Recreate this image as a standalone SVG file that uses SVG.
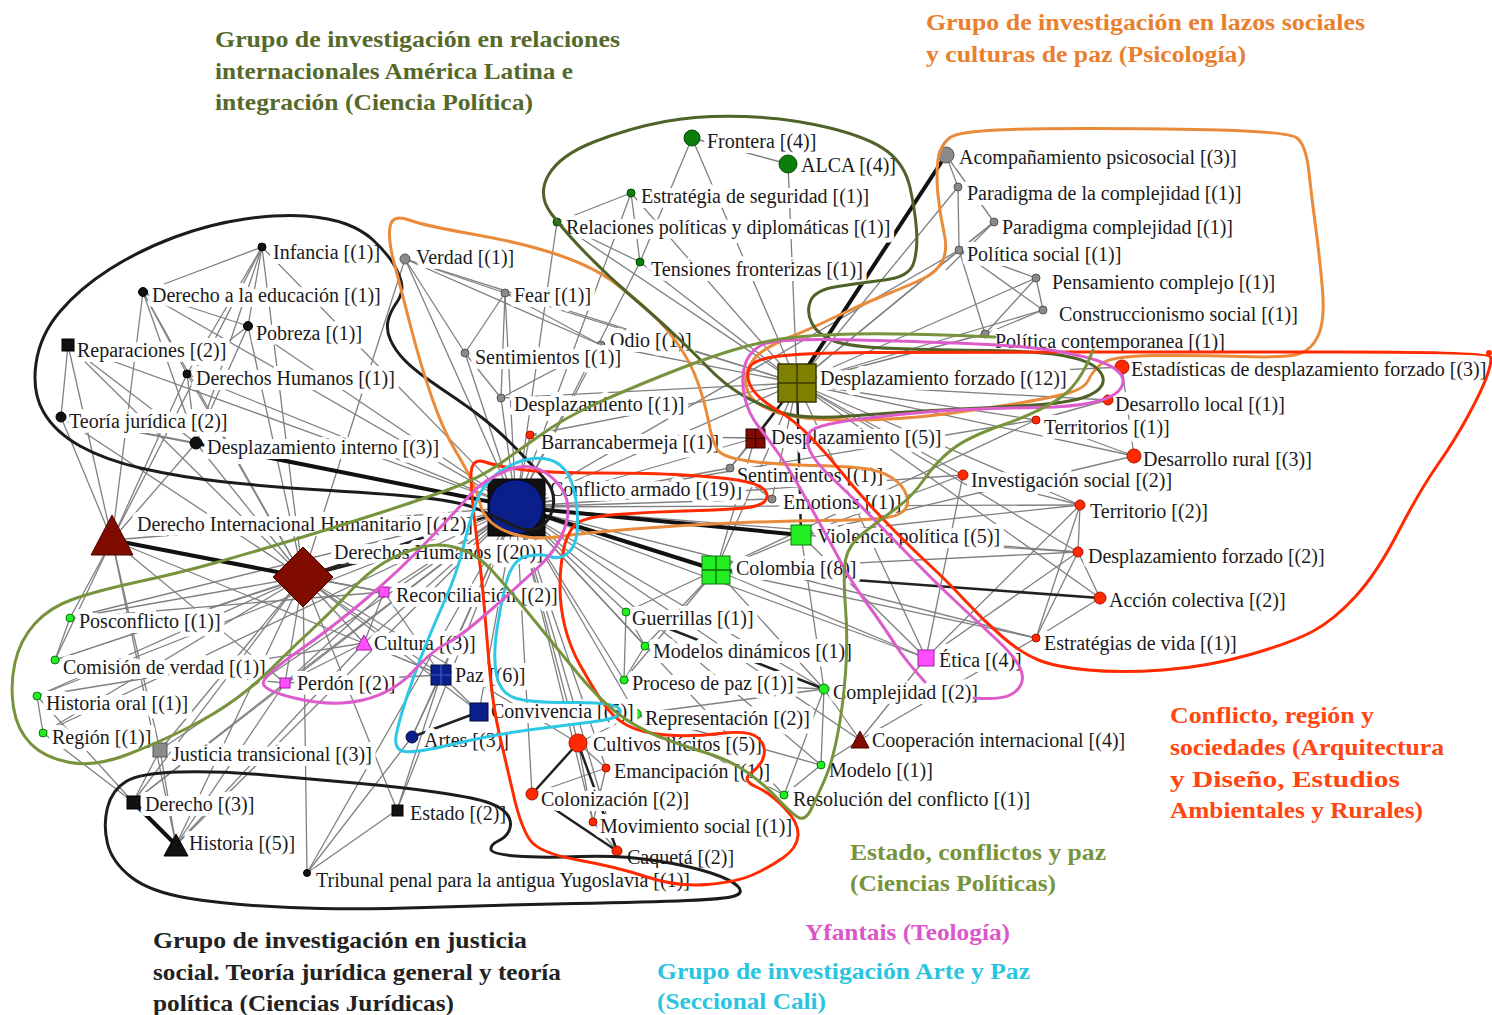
<svg xmlns="http://www.w3.org/2000/svg" width="1492" height="1015" viewBox="0 0 1492 1015">
<style>
.lbl{font-family:"Liberation Serif","Times New Roman",serif;font-size:20px;fill:#1a1a1a;stroke:#fff;stroke-width:10px;stroke-linejoin:round;paint-order:stroke fill}
.cap{font-family:"Liberation Serif","Times New Roman",serif;font-size:23px;font-weight:bold}
#edges line{stroke:#808080;stroke-width:1.3}
#edges line.t{stroke:#111;stroke-width:4}
#edges line.m{stroke:#222;stroke-width:2.5}
.ol{fill:none;stroke-width:3;stroke-linecap:round;stroke-linejoin:round}
.g1{fill:#0a7d0a;stroke:#064a06;stroke-width:1}
.gy{fill:#8a8a8a;stroke:#555;stroke-width:1}
.rd{fill:#ff2a00;stroke:#b01000;stroke-width:1}
.lm{fill:#22ee22;stroke:#0a7a0a;stroke-width:1}
.mg{fill:#ff4dff;stroke:#a020a0;stroke-width:1}
.nv{fill:#0b1f8a;stroke:#000a40;stroke-width:1}
.dr{fill:#800c00;stroke:#4a0500;stroke-width:1}
.bk{fill:#111;stroke:#000;stroke-width:1}
</style>
<rect width="1492" height="1015" fill="#fff"/>
<g id="edges">
<line x1="516" y1="507" x2="262" y2="247"/><line x1="516" y1="507" x2="143" y2="292"/><line x1="516" y1="507" x2="248" y2="326"/><line x1="516" y1="507" x2="68" y2="345"/><line x1="516" y1="507" x2="187" y2="374"/><line x1="516" y1="507" x2="61" y2="417"/><line x1="516" y1="507" x2="405" y2="259"/><line x1="516" y1="507" x2="505" y2="293"/><line x1="516" y1="507" x2="601" y2="345"/><line x1="516" y1="507" x2="465" y2="353"/><line x1="516" y1="507" x2="501" y2="398"/><line x1="516" y1="507" x2="530" y2="435"/><line x1="516" y1="507" x2="557" y2="222"/><line x1="516" y1="507" x2="640" y2="262"/><line x1="516" y1="507" x2="631" y2="193"/><line x1="516" y1="507" x2="730" y2="468"/><line x1="516" y1="507" x2="772" y2="499"/><line x1="516" y1="507" x2="626" y2="612"/><line x1="516" y1="507" x2="645" y2="646"/><line x1="516" y1="507" x2="624" y2="680"/><line x1="516" y1="507" x2="824" y2="689"/><line x1="516" y1="507" x2="636" y2="714"/><line x1="516" y1="507" x2="384" y2="592"/><line x1="516" y1="507" x2="364" y2="643"/><line x1="516" y1="507" x2="285" y2="683"/><line x1="516" y1="507" x2="441" y2="675"/><line x1="516" y1="507" x2="479" y2="712"/><line x1="516" y1="507" x2="412" y2="737"/><line x1="516" y1="507" x2="578" y2="743"/><line x1="516" y1="507" x2="606" y2="768"/><line x1="516" y1="507" x2="532" y2="794"/><line x1="516" y1="507" x2="593" y2="822"/><line x1="516" y1="507" x2="617" y2="851"/><line x1="516" y1="507" x2="70" y2="618"/><line x1="516" y1="507" x2="55" y2="660"/><line x1="516" y1="507" x2="37" y2="696"/><line x1="516" y1="507" x2="43" y2="733"/><line x1="516" y1="507" x2="160" y2="750"/><line x1="516" y1="507" x2="133" y2="802"/><line x1="516" y1="507" x2="176" y2="845"/><line x1="516" y1="507" x2="397" y2="810"/><line x1="516" y1="507" x2="307" y2="873"/><line x1="516" y1="507" x2="112" y2="540"/><line x1="516" y1="507" x2="963" y2="475"/><line x1="516" y1="507" x2="1080" y2="505"/><line x1="516" y1="507" x2="1078" y2="552"/><line x1="516" y1="507" x2="1036" y2="638"/><line x1="516" y1="507" x2="926" y2="658"/><line x1="516" y1="507" x2="860" y2="740"/><line x1="516" y1="507" x2="821" y2="765"/><line x1="516" y1="507" x2="784" y2="795"/><line x1="516" y1="507" x2="797" y2="383"/><line x1="516" y1="507" x2="959" y2="250"/><line x1="516" y1="507" x2="1036" y2="420"/><line x1="516" y1="507" x2="755" y2="438"/>
<line x1="303" y1="577" x2="262" y2="247"/><line x1="303" y1="577" x2="143" y2="292"/><line x1="303" y1="577" x2="248" y2="326"/><line x1="303" y1="577" x2="68" y2="345"/><line x1="303" y1="577" x2="187" y2="374"/><line x1="303" y1="577" x2="61" y2="417"/><line x1="303" y1="577" x2="196" y2="443"/><line x1="303" y1="577" x2="70" y2="618"/><line x1="303" y1="577" x2="55" y2="660"/><line x1="303" y1="577" x2="37" y2="696"/><line x1="303" y1="577" x2="43" y2="733"/><line x1="303" y1="577" x2="160" y2="750"/><line x1="303" y1="577" x2="133" y2="802"/><line x1="303" y1="577" x2="176" y2="845"/><line x1="303" y1="577" x2="384" y2="592"/><line x1="303" y1="577" x2="364" y2="643"/><line x1="303" y1="577" x2="285" y2="683"/><line x1="303" y1="577" x2="441" y2="675"/><line x1="303" y1="577" x2="479" y2="712"/><line x1="303" y1="577" x2="397" y2="810"/><line x1="303" y1="577" x2="307" y2="873"/><line x1="303" y1="577" x2="405" y2="259"/><line x1="303" y1="577" x2="578" y2="743"/>
<line x1="112" y1="540" x2="196" y2="443"/><line x1="112" y1="540" x2="61" y2="417"/><line x1="112" y1="540" x2="187" y2="374"/><line x1="112" y1="540" x2="143" y2="292"/><line x1="112" y1="540" x2="68" y2="345"/><line x1="112" y1="540" x2="70" y2="618"/><line x1="112" y1="540" x2="55" y2="660"/><line x1="112" y1="540" x2="160" y2="750"/><line x1="112" y1="540" x2="176" y2="845"/><line x1="112" y1="540" x2="384" y2="592"/><line x1="112" y1="540" x2="285" y2="683"/><line x1="112" y1="540" x2="262" y2="247"/><line x1="112" y1="540" x2="441" y2="675"/>
<line x1="797" y1="383" x2="958" y2="187"/><line x1="797" y1="383" x2="994" y2="222"/><line x1="797" y1="383" x2="959" y2="250"/><line x1="797" y1="383" x2="1036" y2="278"/><line x1="797" y1="383" x2="1043" y2="310"/><line x1="797" y1="383" x2="985" y2="334"/><line x1="797" y1="383" x2="1122" y2="367"/><line x1="797" y1="383" x2="1108" y2="400"/><line x1="797" y1="383" x2="1036" y2="420"/><line x1="797" y1="383" x2="1134" y2="456"/><line x1="797" y1="383" x2="963" y2="475"/><line x1="797" y1="383" x2="1080" y2="505"/><line x1="797" y1="383" x2="1078" y2="552"/><line x1="797" y1="383" x2="557" y2="222"/><line x1="797" y1="383" x2="640" y2="262"/><line x1="797" y1="383" x2="631" y2="193"/><line x1="797" y1="383" x2="788" y2="164"/><line x1="797" y1="383" x2="692" y2="138"/><line x1="797" y1="383" x2="505" y2="293"/><line x1="797" y1="383" x2="601" y2="345"/><line x1="797" y1="383" x2="730" y2="468"/><line x1="797" y1="383" x2="772" y2="499"/><line x1="797" y1="383" x2="926" y2="658"/><line x1="797" y1="383" x2="716" y2="570"/><line x1="797" y1="383" x2="1100" y2="598"/><line x1="797" y1="383" x2="501" y2="398"/><line x1="797" y1="383" x2="405" y2="259"/><line x1="797" y1="383" x2="530" y2="435"/>
<line x1="692" y1="138" x2="788" y2="164"/><line x1="631" y1="193" x2="557" y2="222"/><line x1="631" y1="193" x2="640" y2="262"/><line x1="557" y1="222" x2="640" y2="262"/><line x1="692" y1="138" x2="640" y2="262"/>
<line x1="946" y1="155" x2="958" y2="187"/><line x1="946" y1="155" x2="994" y2="222"/><line x1="958" y1="187" x2="959" y2="250"/><line x1="959" y1="250" x2="1036" y2="278"/><line x1="959" y1="250" x2="1043" y2="310"/><line x1="959" y1="250" x2="985" y2="334"/><line x1="1036" y1="278" x2="1043" y2="310"/><line x1="1036" y1="278" x2="985" y2="334"/><line x1="1043" y1="310" x2="985" y2="334"/><line x1="994" y1="222" x2="959" y2="250"/><line x1="994" y1="222" x2="946" y2="270"/>
<line x1="1122" y1="367" x2="1134" y2="456"/><line x1="1036" y1="420" x2="1134" y2="456"/><line x1="1108" y1="400" x2="1036" y2="420"/><line x1="963" y1="475" x2="1080" y2="505"/><line x1="1080" y1="505" x2="1078" y2="552"/><line x1="1078" y1="552" x2="1100" y2="598"/><line x1="1080" y1="505" x2="1036" y2="638"/><line x1="1078" y1="552" x2="1036" y2="638"/><line x1="1100" y1="598" x2="1036" y2="638"/><line x1="963" y1="475" x2="926" y2="658"/><line x1="1080" y1="505" x2="926" y2="658"/><line x1="1078" y1="552" x2="926" y2="658"/><line x1="801" y1="535" x2="1078" y2="552"/><line x1="801" y1="535" x2="1080" y2="505"/><line x1="801" y1="535" x2="963" y2="475"/><line x1="716" y1="570" x2="926" y2="658"/><line x1="801" y1="535" x2="926" y2="658"/><line x1="716" y1="570" x2="1036" y2="638"/><line x1="716" y1="570" x2="1078" y2="552"/><line x1="801" y1="535" x2="1134" y2="456"/><line x1="716" y1="570" x2="1036" y2="420"/>
<line x1="626" y1="612" x2="624" y2="680"/><line x1="626" y1="612" x2="645" y2="646"/><line x1="645" y1="646" x2="624" y2="680"/><line x1="624" y1="680" x2="824" y2="689"/><line x1="636" y1="714" x2="824" y2="689"/><line x1="824" y1="689" x2="821" y2="765"/><line x1="824" y1="689" x2="784" y2="795"/><line x1="824" y1="689" x2="860" y2="740"/><line x1="821" y1="765" x2="784" y2="795"/><line x1="636" y1="714" x2="784" y2="795"/><line x1="821" y1="765" x2="860" y2="740"/><line x1="860" y1="740" x2="926" y2="658"/><line x1="636" y1="714" x2="821" y2="765"/><line x1="716" y1="570" x2="626" y2="612"/><line x1="716" y1="570" x2="645" y2="646"/><line x1="716" y1="570" x2="824" y2="689"/><line x1="716" y1="570" x2="624" y2="680"/><line x1="801" y1="535" x2="824" y2="689"/><line x1="860" y1="740" x2="1036" y2="638"/>
<line x1="578" y1="743" x2="593" y2="822"/><line x1="578" y1="743" x2="606" y2="768"/><line x1="606" y1="768" x2="593" y2="822"/><line x1="593" y1="822" x2="617" y2="851"/><line x1="532" y1="794" x2="606" y2="768"/><line x1="578" y1="743" x2="636" y2="714"/>
<line x1="441" y1="675" x2="479" y2="712"/><line x1="441" y1="675" x2="412" y2="737"/><line x1="441" y1="675" x2="364" y2="643"/><line x1="441" y1="675" x2="285" y2="683"/><line x1="384" y1="592" x2="285" y2="683"/><line x1="384" y1="592" x2="364" y2="643"/><line x1="364" y1="643" x2="285" y2="683"/><line x1="384" y1="592" x2="441" y2="675"/>
<line x1="70" y1="618" x2="55" y2="660"/><line x1="37" y1="696" x2="43" y2="733"/><line x1="43" y1="733" x2="133" y2="802"/><line x1="37" y1="696" x2="133" y2="802"/><line x1="160" y1="750" x2="133" y2="802"/><line x1="160" y1="750" x2="176" y2="845"/><line x1="397" y1="810" x2="307" y2="873"/><line x1="412" y1="737" x2="307" y2="873"/><line x1="397" y1="810" x2="441" y2="675"/><line x1="176" y1="845" x2="285" y2="683"/><line x1="133" y1="802" x2="285" y2="683"/><line x1="176" y1="845" x2="364" y2="643"/><line x1="55" y1="660" x2="285" y2="683"/><line x1="70" y1="618" x2="384" y2="592"/><line x1="37" y1="696" x2="364" y2="643"/>
<line x1="262" y1="247" x2="143" y2="292"/><line x1="262" y1="247" x2="248" y2="326"/><line x1="262" y1="247" x2="187" y2="374"/><line x1="143" y1="292" x2="248" y2="326"/><line x1="143" y1="292" x2="187" y2="374"/><line x1="143" y1="292" x2="196" y2="443"/><line x1="248" y1="326" x2="187" y2="374"/><line x1="248" y1="326" x2="196" y2="443"/><line x1="68" y1="345" x2="61" y2="417"/><line x1="187" y1="374" x2="196" y2="443"/><line x1="61" y1="417" x2="196" y2="443"/><line x1="262" y1="247" x2="196" y2="443"/><line x1="68" y1="345" x2="196" y2="443"/>
<line x1="405" y1="259" x2="505" y2="293"/><line x1="405" y1="259" x2="465" y2="353"/><line x1="505" y1="293" x2="465" y2="353"/><line x1="505" y1="293" x2="601" y2="345"/><line x1="465" y1="353" x2="501" y2="398"/><line x1="601" y1="345" x2="501" y2="398"/><line x1="405" y1="259" x2="601" y2="345"/><line x1="505" y1="293" x2="501" y2="398"/><line x1="730" y1="468" x2="772" y2="499"/><line x1="755" y1="438" x2="530" y2="435"/><line x1="755" y1="438" x2="730" y2="468"/><line x1="755" y1="438" x2="716" y2="570"/><line x1="716" y1="570" x2="801" y2="535"/>
<line class="t" x1="516" y1="507" x2="196" y2="443"/><line class="t" x1="516" y1="507" x2="801" y2="535"/><line class="t" x1="516" y1="507" x2="716" y2="570"/><line class="t" x1="112" y1="540" x2="303" y2="577"/><line class="m" x1="303" y1="577" x2="360" y2="562"/><line class="m" x1="716" y1="570" x2="1100" y2="598"/><line class="t" x1="797" y1="383" x2="946" y2="155"/><line class="m" x1="797" y1="383" x2="755" y2="438"/><line class="m" x1="797" y1="383" x2="801" y2="535"/><line class="m" x1="578" y1="743" x2="532" y2="794"/><line class="m" x1="578" y1="743" x2="617" y2="851"/><line class="m" x1="532" y1="794" x2="617" y2="851"/><line class="t" x1="133" y1="802" x2="176" y2="845"/><line class="m" x1="479" y1="712" x2="412" y2="737"/><line class="m" x1="626" y1="612" x2="824" y2="689"/><line class="m" x1="516" y1="507" x2="303" y2="577"/>
</g>
<g id="n-conflicto-armado"><text class="lbl" x="550" y="496">Conflicto armado [(19)]</text><rect class="bk" x="488" y="479" width="57" height="57"/><circle class="nv" cx="516" cy="507" r="27"/></g>
<g id="n-desplazamiento-forzado-12"><text class="lbl" x="820" y="385">Desplazamiento forzado [(12)]</text><rect x="778" y="364" width="38" height="38" fill="#808000" stroke="#3a3a00" stroke-width="1.5"/><path d="M797 364V402M778 383H816" stroke="#3a3a00" stroke-width="1.5"/></g>
<g id="n-desplazamiento-5"><text class="lbl" x="771" y="444">Desplazamiento [(5)]</text><rect x="746" y="429" width="19" height="19" fill="#800c00" stroke="#300"/><path d="M755.5 429V448M746 438.5H765" stroke="#300" stroke-width="1.2"/></g>
<g id="n-frontera"><text class="lbl" x="707" y="148">Frontera [(4)]</text><circle class="g1" cx="692" cy="138" r="8"/></g>
<g id="n-alca"><text class="lbl" x="801" y="172">ALCA [(4)]</text><circle class="g1" cx="788" cy="164" r="9"/></g>
<g id="n-estrategia-seguridad"><text class="lbl" x="641" y="203">Estratégia de seguridad [(1)]</text><circle class="g1" cx="631" cy="193" r="4"/></g>
<g id="n-relaciones"><text class="lbl" x="566" y="234">Relaciones políticas y diplomáticas [(1)]</text><circle class="g1" cx="557" cy="222" r="4"/></g>
<g id="n-tensiones"><text class="lbl" x="651" y="276">Tensiones fronterizas [(1)]</text><circle class="g1" cx="640" cy="262" r="4"/></g>
<g id="n-acompanamiento"><text class="lbl" x="959" y="164">Acompañamiento psicosocial [(3)]</text><circle class="gy" cx="946" cy="155" r="8"/></g>
<g id="n-paradigma-de-la"><text class="lbl" x="967" y="200">Paradigma de la complejidad [(1)]</text><circle class="gy" cx="958" cy="187" r="4"/></g>
<g id="n-paradigma"><text class="lbl" x="1002" y="234">Paradigma complejidad [(1)]</text><circle class="gy" cx="994" cy="222" r="4"/></g>
<g id="n-politica-social"><text class="lbl" x="967" y="261">Política social [(1)]</text><circle class="gy" cx="959" cy="250" r="4"/></g>
<g id="n-pensamiento"><text class="lbl" x="1052" y="289">Pensamiento complejo [(1)]</text><circle class="gy" cx="1036" cy="278" r="4"/></g>
<g id="n-construccionismo"><text class="lbl" x="1059" y="321">Construccionismo social [(1)]</text><circle class="gy" cx="1043" cy="310" r="4"/></g>
<g id="n-politica-contemporanea"><text class="lbl" x="995" y="348">Política contemporanea [(1)]</text><circle class="gy" cx="985" cy="334" r="4"/></g>
<g id="n-estadisticas"><text class="lbl" x="1131" y="376">Estadísticas de desplazamiento forzado [(3)]</text><circle class="rd" cx="1122" cy="367" r="7"/></g>
<g id="n-desarrollo-local"><text class="lbl" x="1115" y="411">Desarrollo local [(1)]</text><circle class="rd" cx="1108" cy="400" r="5"/></g>
<g id="n-territorios"><text class="lbl" x="1044" y="434">Territorios [(1)]</text><circle class="rd" cx="1036" cy="420" r="4"/></g>
<g id="n-desarrollo-rural"><text class="lbl" x="1143" y="466">Desarrollo rural [(3)]</text><circle class="rd" cx="1134" cy="456" r="7"/></g>
<g id="n-investigacion-social"><text class="lbl" x="971" y="487">Investigación social [(2)]</text><circle class="rd" cx="963" cy="475" r="5"/></g>
<g id="n-territorio"><text class="lbl" x="1090" y="518">Territorio [(2)]</text><circle class="rd" cx="1080" cy="505" r="5"/></g>
<g id="n-desplazamiento-forzado-2"><text class="lbl" x="1088" y="563">Desplazamiento forzado [(2)]</text><circle class="rd" cx="1078" cy="552" r="5"/></g>
<g id="n-accion-colectiva"><text class="lbl" x="1109" y="607">Acción colectiva [(2)]</text><circle class="rd" cx="1100" cy="598" r="6"/></g>
<g id="n-estrategias-vida"><text class="lbl" x="1044" y="650">Estratégias de vida [(1)]</text><circle class="rd" cx="1036" cy="638" r="4"/></g>
<g id="n-barrancabermeja"><text class="lbl" x="541" y="449">Barrancabermeja [(1)]</text><circle class="rd" cx="530" cy="435" r="4"/></g>
<g id="n-sentimientos-2"><text class="lbl" x="737" y="482">Sentimientos [(1)]</text><circle class="gy" cx="730" cy="468" r="4"/></g>
<g id="n-emotions"><text class="lbl" x="783" y="509">Emotions [(1)]</text><circle class="gy" cx="772" cy="499" r="4"/></g>
<g id="n-violencia-politica"><text class="lbl" x="817" y="543">Violencia política [(5)]</text><rect class="lm" x="791" y="525" width="20" height="20"/></g>
<g id="n-colombia"><text class="lbl" x="736" y="575">Colombia [(8)]</text><rect class="lm" x="702" y="556" width="28" height="28"/><path d="M716 556V584M702 570H730" stroke="#0a6a0a" stroke-width="1.3"/></g>
<g id="n-guerrillas"><text class="lbl" x="632" y="625">Guerrillas [(1)]</text><circle class="lm" cx="626" cy="612" r="4"/></g>
<g id="n-modelos-dinamicos"><text class="lbl" x="653" y="658">Modelos dinámicos [(1)]</text><circle class="lm" cx="645" cy="646" r="4"/></g>
<g id="n-proceso-paz"><text class="lbl" x="632" y="690">Proceso de paz [(1)]</text><circle class="lm" cx="624" cy="680" r="4"/></g>
<g id="n-complejidad"><text class="lbl" x="833" y="699">Complejidad [(2)]</text><circle class="lm" cx="824" cy="689" r="5"/></g>
<g id="n-representacion"><text class="lbl" x="645" y="725">Representación [(2)]</text><circle class="lm" cx="636" cy="714" r="5"/></g>
<g id="n-modelo"><text class="lbl" x="829" y="777">Modelo [(1)]</text><circle class="lm" cx="821" cy="765" r="4"/></g>
<g id="n-resolucion"><text class="lbl" x="793" y="806">Resolución del conflicto [(1)]</text><circle class="lm" cx="784" cy="795" r="4"/></g>
<g id="n-etica"><text class="lbl" x="939" y="667">Ética [(4)]</text><rect class="mg" x="918" y="650" width="16" height="16"/></g>
<g id="n-cooperacion"><text class="lbl" x="872" y="747">Cooperación internacional [(4)]</text><polygon class="dr" points="860,731 851,748 869,748"/></g>
<g id="n-cultivos"><text class="lbl" x="593" y="751">Cultivos ilícitos [(5)]</text><circle class="rd" cx="578" cy="743" r="9"/></g>
<g id="n-emancipacion"><text class="lbl" x="614" y="778">Emancipación [(1)]</text><circle class="rd" cx="606" cy="768" r="4"/></g>
<g id="n-colonizacion"><text class="lbl" x="541" y="806">Colonización [(2)]</text><circle class="rd" cx="532" cy="794" r="6"/></g>
<g id="n-movimiento-social"><text class="lbl" x="600" y="833">Movimiento social [(1)]</text><circle class="rd" cx="593" cy="822" r="4"/></g>
<g id="n-caqueta"><text class="lbl" x="627" y="864">Caquetá [(2)]</text><circle class="rd" cx="617" cy="851" r="5"/></g>
<g id="n-reconciliacion"><text class="lbl" x="396" y="602">Reconciliación [(2)]</text><rect class="mg" x="379" y="587" width="10" height="10"/></g>
<g id="n-cultura"><text class="lbl" x="374" y="650">Cultura [(3)]</text><polygon class="mg" points="364,635 356,650 372,650"/></g>
<g id="n-perdon"><text class="lbl" x="297" y="690">Perdón [(2)]</text><rect class="mg" x="280" y="678" width="10" height="10"/></g>
<g id="n-paz"><text class="lbl" x="455" y="682">Paz [(6)]</text><rect class="nv" x="431" y="665" width="20" height="20"/><path d="M441 665V685M431 675H451" stroke="#3a5ad0" stroke-width="1.2"/></g>
<g id="n-convivencia"><text class="lbl" x="491" y="718">Convivencia [(5)]</text><rect class="nv" x="470" y="703" width="18" height="18"/></g>
<g id="n-artes"><text class="lbl" x="424" y="747">Artes [(3)]</text><circle class="nv" cx="412" cy="737" r="6"/></g>
<g id="n-dih"><text class="lbl" x="137" y="531">Derecho Internacional Humanitario [(12)]</text><polygon class="dr" points="112,515 91,555 133,555"/></g>
<g id="n-derechos-humanos-20"><text class="lbl" x="334" y="559">Derechos Humanos [(20)]</text><polygon class="dr" points="303,547 333,577 303,607 273,577"/></g>
<g id="n-infancia"><text class="lbl" x="273" y="259">Infancia [(1)]</text><circle class="bk" cx="262" cy="247" r="4"/></g>
<g id="n-derecho-educacion"><text class="lbl" x="152" y="302">Derecho a la educación [(1)]</text><circle class="bk" cx="143" cy="292" r="4.5"/></g>
<g id="n-pobreza"><text class="lbl" x="256" y="340">Pobreza [(1)]</text><circle class="bk" cx="248" cy="326" r="4.5"/></g>
<g id="n-reparaciones"><text class="lbl" x="77" y="357">Reparaciones [(2)]</text><rect class="bk" x="62" y="339" width="12" height="12"/></g>
<g id="n-derechos-humanos-1"><text class="lbl" x="196" y="385">Derechos Humanos [(1)]</text><circle class="bk" cx="187" cy="374" r="4"/></g>
<g id="n-teoria-juridica"><text class="lbl" x="69" y="428">Teoría jurídica [(2)]</text><circle class="bk" cx="61" cy="417" r="5"/></g>
<g id="n-desplazamiento-interno"><text class="lbl" x="207" y="454">Desplazamiento interno [(3)]</text><circle class="bk" cx="196" cy="443" r="6"/></g>
<g id="n-verdad"><text class="lbl" x="416" y="264">Verdad [(1)]</text><circle class="gy" cx="405" cy="259" r="5"/></g>
<g id="n-fear"><text class="lbl" x="514" y="302">Fear [(1)]</text><circle class="gy" cx="505" cy="293" r="4"/></g>
<g id="n-odio"><text class="lbl" x="610" y="347">Odio [(1)]</text><circle class="gy" cx="601" cy="345" r="4"/></g>
<g id="n-sentimientos-1"><text class="lbl" x="475" y="364">Sentimientos [(1)]</text><circle class="gy" cx="465" cy="353" r="4"/></g>
<g id="n-desplazamiento-1"><text class="lbl" x="514" y="411">Desplazamiento [(1)]</text><circle class="gy" cx="501" cy="398" r="4"/></g>
<g id="n-posconflicto"><text class="lbl" x="79" y="628">Posconflicto [(1)]</text><circle class="lm" cx="70" cy="618" r="4"/></g>
<g id="n-comision-verdad"><text class="lbl" x="63" y="674">Comisión de verdad [(1)]</text><circle class="lm" cx="55" cy="660" r="4"/></g>
<g id="n-historia-oral"><text class="lbl" x="46" y="710">Historia oral [(1)]</text><circle class="lm" cx="37" cy="696" r="4"/></g>
<g id="n-region"><text class="lbl" x="52" y="744">Región [(1)]</text><circle class="lm" cx="43" cy="733" r="4"/></g>
<g id="n-justicia-transicional"><text class="lbl" x="172" y="761">Justicia transicional [(3)]</text><rect x="153" y="743" width="14" height="14" fill="#8a8a8a" stroke="#555"/></g>
<g id="n-derecho"><text class="lbl" x="145" y="811">Derecho [(3)]</text><rect class="bk" x="127" y="796" width="13" height="13"/></g>
<g id="n-historia"><text class="lbl" x="189" y="850">Historia [(5)]</text><polygon class="bk" points="176,834 164,856 188,856"/></g>
<g id="n-estado"><text class="lbl" x="410" y="820">Estado [(2)]</text><rect class="bk" x="392" y="805" width="11" height="11"/></g>
<g id="n-tribunal"><text class="lbl" x="316" y="887">Tribunal penal para la antigua Yugoslavia [(1)]</text><circle class="bk" cx="307" cy="873" r="3.5"/></g>
<g id="outlines">
<path class="ol" stroke="#1c1c1c" d="M 553,507 Q 556,492 545.5,480 Q 535,468 517.5,450 Q 500,432 485,420 Q 470,408 455,398 Q 440,388 426,378 Q 412,368 403.5,359 Q 395,350 390.5,340 Q 386,330 388,321 Q 390,312 397,302 Q 404,292 401,281 Q 398,270 390.5,259.5 Q 383,249 372.5,239.5 Q 362,230 346,224 Q 330,218 305,216 Q 280,214 245,219 Q 210,224 175,237 Q 140,250 110,269 Q 80,288 60,311.5 Q 40,335 36,363.5 Q 32,392 43.5,412 Q 55,432 80,446 Q 105,460 142.5,468.5 Q 180,477 225,482 Q 270,487 330,490.5 Q 390,494 426,498 Q 462,502 480,510 Q 498,518 513,525.5 Q 528,533 539,527.5 Q 550,522 553,507 Z"/>
<path class="ol" stroke="#1c1c1c" d="M 126,781.5 Q 140,773 180,772 Q 220,771 265,775 Q 310,779 355,783 Q 400,787 435,792 Q 470,797 485,801.5 Q 500,806 506,813 Q 512,820 510,828 Q 508,836 499,840.5 Q 490,845 491,849.5 Q 492,854 516,856 Q 540,858 580,856.5 Q 620,855 655,860.5 Q 690,866 711,873 Q 732,880 738,886.5 Q 744,893 734.5,896 Q 725,899 687.5,900.5 Q 650,902 575,903.5 Q 500,905 425,907.5 Q 350,910 290,907.5 Q 230,905 190,898.5 Q 150,892 131,877 Q 112,862 107.5,843.5 Q 103,825 107.5,807.5 Q 112,790 126,781.5 Z"/>
<path class="ol" stroke="#e98b3a" d="M 390,227 Q 392,214 409,220 Q 426,226 474.5,234.5 Q 523,243 558.5,255 Q 594,267 615.5,283.5 Q 637,300 651.5,313.5 Q 666,327 678.5,345 Q 691,363 698,383 Q 705,403 708.5,421.5 Q 712,440 717,449 Q 722,458 752.5,461.5 Q 783,465 811.5,465.5 Q 840,466 860,468 Q 880,470 891.5,477.5 Q 903,485 906.5,495 Q 910,505 903.5,511 Q 897,517 880,518.5 Q 863,520 823,520.5 Q 783,521 733,523 Q 683,525 633,529 Q 583,533 568,535.5 Q 553,538 540,538 Q 527,538 513.5,534 Q 500,530 491.5,522.5 Q 483,515 480.5,505 Q 478,495 472.5,482.5 Q 467,470 455,450 Q 443,430 431.5,396.5 Q 420,363 410,324 Q 400,285 394,262.5 Q 388,240 390,227 Z"/>
<path class="ol" stroke="#e98b3a" d="M 791.5,336.5 Q 808,330 834,317.5 Q 860,305 885,295 Q 910,285 923.5,278.5 Q 937,272 942.5,261 Q 948,250 944,232.5 Q 940,215 938,195 Q 936,175 938,160 Q 940,145 950,137.5 Q 960,130 1030,129 Q 1100,128 1194,129.5 Q 1288,131 1297,138 Q 1306,145 1309,172.5 Q 1312,200 1316,230 Q 1320,260 1322.5,290 Q 1325,320 1318.5,335 Q 1312,350 1298.5,354 Q 1285,358 1242.5,356.5 Q 1200,355 1155,355.5 Q 1110,356 1101,364 Q 1092,372 1088.5,380 Q 1085,388 1070,392.5 Q 1055,397 1022.5,402.5 Q 990,408 945,414 Q 900,420 850,420 Q 800,420 777.5,412.5 Q 755,405 749,394 Q 743,383 747.5,370.5 Q 752,358 763.5,350.5 Q 775,343 791.5,336.5 Z"/>
<path class="ol" stroke="#4f6228" d="M 551.5,214 Q 537,195 548.5,175 Q 560,155 595,141.5 Q 630,128 665,121.5 Q 700,115 745,116.5 Q 790,118 830,128 Q 870,138 887.5,151.5 Q 905,165 910,187.5 Q 915,210 916.5,230 Q 918,250 913.5,263.5 Q 909,277 884.5,280 Q 860,283 837.5,286.5 Q 815,290 810.5,301 Q 806,312 812,323.5 Q 818,335 834,341 Q 850,347 895,348.5 Q 940,350 988.5,350.5 Q 1037,351 1062.5,355.5 Q 1088,360 1097,368.5 Q 1106,377 1102,385 Q 1098,393 1082,398 Q 1066,403 1034,405 Q 1002,407 951,409.5 Q 900,412 850.5,416 Q 801,420 778,411.5 Q 755,403 739,393 Q 723,383 708.5,368 Q 694,353 676.5,336.5 Q 659,320 634,298.5 Q 609,277 587.5,255 Q 566,233 551.5,214 Z"/>
<path class="ol" stroke="#ff2a00" d="M 748.5,370 Q 751,360 775.5,356.5 Q 800,353 870,352.5 Q 940,352 1070,352 Q 1200,352 1344.5,352 Q 1489,352 1490.5,357 Q 1492,362 1487,376 Q 1482,390 1468.5,415 Q 1455,440 1437.5,465 Q 1420,490 1398.5,531.5 Q 1377,573 1355.5,596.5 Q 1334,620 1312.5,631.5 Q 1291,643 1248.5,655 Q 1206,667 1163,670 Q 1120,673 1088,670 Q 1056,667 1038.5,660 Q 1021,653 1002,636.5 Q 983,620 966,601.5 Q 949,583 927.5,563 Q 906,543 883,519 Q 860,495 843,474 Q 826,453 810,436.5 Q 794,420 777,410 Q 760,400 753,390 Q 746,380 748.5,370 Z"/>
<path class="ol" stroke="#ff2a00" d="M 471,478.5 Q 470,457 485,462 Q 500,467 525,470 Q 550,473 600,473 Q 650,473 683.5,475 Q 717,477 737,480 Q 757,483 763.5,489 Q 770,495 765,501 Q 760,507 738.5,508.5 Q 717,510 683.5,511 Q 650,512 616.5,514.5 Q 583,517 575,525 Q 567,533 563.5,550 Q 560,567 560,587 Q 560,607 565,627 Q 570,647 580,665 Q 590,683 601,700 Q 612,717 626.5,725 Q 641,733 666,735 Q 691,737 720,733.5 Q 749,730 757.5,737.5 Q 766,745 764,755 Q 762,765 751.5,772.5 Q 741,780 755.5,786.5 Q 770,793 784.5,808 Q 799,823 798,835.5 Q 797,848 783.5,857.5 Q 770,867 753.5,874.5 Q 737,882 707,884.5 Q 677,887 647,877 Q 617,867 578,860 Q 539,853 530,840 Q 521,827 514,797 Q 507,767 500,737 Q 493,707 490,673.5 Q 487,640 485,615 Q 483,590 480,565 Q 477,540 474.5,520 Q 472,500 471,478.5 Z"/>
<path class="ol" stroke="#2ec8e6" d="M 445,600 Q 457,573 463.5,546.5 Q 470,520 476.5,501.5 Q 483,483 500,471.5 Q 517,460 533.5,458.5 Q 550,457 560,465 Q 570,473 574,490 Q 578,507 577.5,526 Q 577,545 568.5,552.5 Q 560,560 550,556.5 Q 540,553 526,556.5 Q 512,560 506,583.5 Q 500,607 496.5,632 Q 493,657 496.5,675 Q 500,693 515,698 Q 530,703 573.5,702.5 Q 617,702 620,710 Q 623,718 595,721.5 Q 567,725 528.5,730 Q 490,735 453.5,744 Q 417,753 405,751.5 Q 393,750 396.5,733.5 Q 400,717 408.5,692 Q 417,667 425,647 Q 433,627 445,600 Z"/>
<path class="ol" stroke="#dd5ccc" d="M 428.5,540 Q 457,510 470,495 Q 483,480 508,470 Q 533,460 553,478.5 Q 573,497 566.5,522 Q 560,547 538.5,567 Q 517,587 488.5,612 Q 460,637 446.5,643.5 Q 433,650 413,671.5 Q 393,693 363,700 Q 333,707 296.5,698.5 Q 260,690 263.5,681.5 Q 267,673 300,650 Q 333,627 366.5,598.5 Q 400,570 428.5,540 Z"/>
<path class="ol" stroke="#dd5ccc" d="M 974,698 Q 1000,700 1010,695 Q 1020,690 1022,681.5 Q 1024,673 1017,662.5 Q 1010,652 996.5,639.5 Q 983,627 959.5,605 Q 936,583 916.5,563 Q 897,543 873.5,519 Q 850,495 832.5,478.5 Q 815,462 810,451 Q 805,440 810,432 Q 815,424 872.5,417.5 Q 930,411 966,409.5 Q 1002,408 1037.5,407.5 Q 1073,407 1094.5,402 Q 1116,397 1121.5,387 Q 1127,377 1114.5,368.5 Q 1102,360 1069.5,353.5 Q 1037,347 988.5,344.5 Q 940,342 856.5,340 Q 773,338 760.5,345.5 Q 748,353 744.5,366.5 Q 741,380 744.5,396.5 Q 748,413 758.5,426.5 Q 769,440 779.5,455 Q 790,470 811.5,508.5 Q 833,547 841.5,563.5 Q 850,580 867,603.5 Q 884,627 894.5,643.5 Q 905,660 925,682"/>
<path class="ol" stroke="#77933c" d="M 995,337 Q 900,333 854.5,334 Q 809,335 784,338.5 Q 759,342 730,351 Q 701,360 660,376.5 Q 619,393 592,405.5 Q 565,418 543.5,433 Q 522,448 501,463 Q 480,478 450,489 Q 420,500 378,513.5 Q 336,527 293,540 Q 250,553 214.5,563 Q 179,573 139.5,581.5 Q 100,590 75,598.5 Q 50,607 35,623.5 Q 20,640 15,662.5 Q 10,685 13.5,707.5 Q 17,730 31,744 Q 45,758 70,762.5 Q 95,767 127.5,754.5 Q 160,742 188.5,727.5 Q 217,713 237,698 Q 257,683 273.5,666.5 Q 290,650 311.5,630 Q 333,610 350,591.5 Q 367,573 383.5,563 Q 400,553 420,547.5 Q 440,542 459,548.5 Q 478,555 491.5,570 Q 505,585 517.5,600 Q 530,615 545,633.5 Q 560,652 579,675 Q 598,698 616.5,712.5 Q 635,727 657.5,736 Q 680,745 705,752.5 Q 730,760 747.5,772.5 Q 765,785 777.5,798.5 Q 790,812 797.5,817 Q 805,822 811.5,808.5 Q 818,795 825,779 Q 832,763 837.5,735 Q 843,707 845.5,673.5 Q 848,640 845.5,607.5 Q 843,575 845.5,560 Q 848,545 864,532.5 Q 880,520 896,508.5 Q 912,497 924,479.5 Q 936,462 952,449.5 Q 968,437 1002.5,425 Q 1037,413 1058.5,399 Q 1080,385 1093,350"/>
<circle cx="1489" cy="353" r="3" fill="#ff2a00"/>
</g>
<g id="captions">
<text class="cap" fill="#55692b" x="215" y="47" textLength="405" lengthAdjust="spacingAndGlyphs">Grupo de investigación en relaciones</text>
<text class="cap" fill="#55692b" x="215" y="79" textLength="358" lengthAdjust="spacingAndGlyphs">internacionales América Latina e</text>
<text class="cap" fill="#55692b" x="215" y="110" textLength="318" lengthAdjust="spacingAndGlyphs">integración (Ciencia Política)</text>
<text class="cap" fill="#e8802e" x="926" y="30" textLength="439" lengthAdjust="spacingAndGlyphs">Grupo de investigación en lazos sociales</text>
<text class="cap" fill="#e8802e" x="926" y="62" textLength="320" lengthAdjust="spacingAndGlyphs">y culturas de paz (Psicología)</text>
<text class="cap" fill="#ff4510" x="1170" y="723" textLength="204" lengthAdjust="spacingAndGlyphs">Conflicto, región y</text>
<text class="cap" fill="#ff4510" x="1170" y="755" textLength="274" lengthAdjust="spacingAndGlyphs">sociedades (Arquitectura</text>
<text class="cap" fill="#ff4510" x="1170" y="787" textLength="230" lengthAdjust="spacingAndGlyphs">y Diseño, Estudios</text>
<text class="cap" fill="#ff4510" x="1170" y="818" textLength="253" lengthAdjust="spacingAndGlyphs">Ambientales y Rurales)</text>
<text class="cap" fill="#77933c" x="850" y="860" textLength="256" lengthAdjust="spacingAndGlyphs">Estado, conflictos y paz</text>
<text class="cap" fill="#77933c" x="850" y="891" textLength="206" lengthAdjust="spacingAndGlyphs">(Ciencias Políticas)</text>
<text class="cap" fill="#d957c8" x="805" y="940" textLength="205" lengthAdjust="spacingAndGlyphs">Yfantais (Teología)</text>
<text class="cap" fill="#2bc4e0" x="657" y="979" textLength="373" lengthAdjust="spacingAndGlyphs">Grupo de investigación Arte y Paz</text>
<text class="cap" fill="#2bc4e0" x="657" y="1009" textLength="169" lengthAdjust="spacingAndGlyphs">(Seccional Cali)</text>
<text class="cap" fill="#222" x="153" y="948" textLength="374" lengthAdjust="spacingAndGlyphs">Grupo de investigación en justicia</text>
<text class="cap" fill="#222" x="153" y="980" textLength="408" lengthAdjust="spacingAndGlyphs">social. Teoría jurídica general y teoría</text>
<text class="cap" fill="#222" x="153" y="1011" textLength="301" lengthAdjust="spacingAndGlyphs">política (Ciencias Jurídicas)</text>
</g>
</svg>
